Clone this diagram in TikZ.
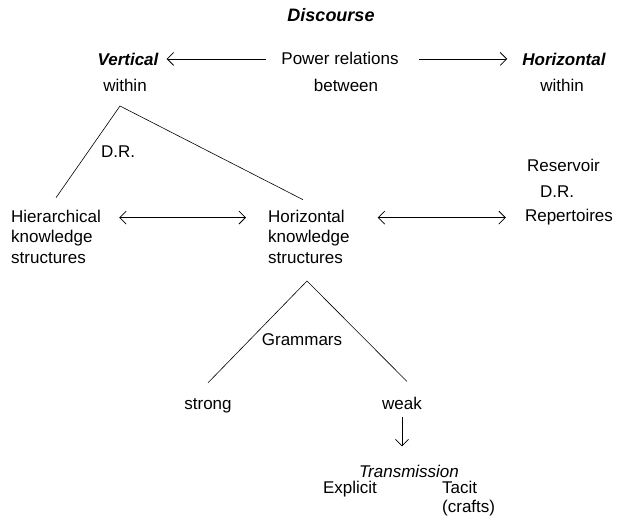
\documentclass[tikz,border=0pt]{standalone}
\usepackage{fontspec}
\setmainfont{Liberation Sans}
\usetikzlibrary{arrows.meta,positioning,calc}
\newcommand\dgfont{\fontsize{17}{20.5}\selectfont}

\begin{document}
\begin{tikzpicture}[
  x=1pt, y=-1pt,
  font=\dgfont,
  txt/.style={inner sep=0pt, anchor=base},
  blk/.style={inner sep=0pt, anchor=north west, align=left},
  bi/.style={font=\dgfont\bfseries\itshape},
  arr/.style={-{Straight Barb[length=6.5pt,width=13pt]}, line width=0.8pt},
  darr/.style={{Straight Barb[length=6.5pt,width=13pt]}-{Straight Barb[length=6.5pt,width=13pt]}, line width=0.8pt},
  ln/.style={line width=0.6pt}
]
\useasboundingbox (0,0) rectangle (621,521);
% top row
\node[txt, font=\fontsize{18}{21}\selectfont\bfseries\itshape] (disc) at (331,22) {Discourse};
\node[txt, bi] (vert) at (128,66) {Vertical};
\node[txt] (power) at (340,65) {Power relations};
\node[txt, bi] (horiz) at (564,66) {Horizontal};
\node[txt] (within1) at (125,92) {within};
\node[txt] (between) at (346,92) {between};
\node[txt] (within2) at (562,92) {within};
\draw[arr, shorten <=15pt, shorten >=8pt] (power.west) -- (vert.east |- power.west);
\draw[arr, shorten <=20pt, shorten >=15pt] (power.east) -- (horiz.west |- power.east);
% knowledge structures
\node[blk] (hier) at (11,209.6) {Hierarchical\\knowledge\\structures};
\node[blk] (hks) at (268,209.6) {Horizontal\\knowledge\\structures};
\node[txt] (rep) at (569,222) {Repertoires};
\node[txt] (dr2) at (557,198) {D.R.};
\node[txt] (reserv) at (563.5,172) {Reservoir};
\draw[darr, shorten <=18pt, shorten >=22pt] (hier.east |- rep.west) -- (hks.west |- rep.west);
\draw[darr, shorten <=28pt, shorten >=19pt] (hks.east |- rep.west) -- (rep.west);
% division of labour
\coordinate (drtop) at (120,106);
\node[txt] (dr1) at (118,158) {D.R.};
\draw[ln] ([yshift=12pt]hier.north) -- (drtop) -- ([xshift=-6pt, yshift=10pt]hks.north);
% grammars
\coordinate (gtop) at (307,281);
\node[txt] (gram) at (302,345) {Grammars};
\node[txt] (strong) at (208,409) {strong};
\node[txt] (weak) at (402,409) {weak};
\draw[ln] ([yshift=15pt]strong.north) -- (gtop) -- ([xshift=5pt, yshift=15pt]weak.north);
% transmission
\node[txt, font=\dgfont\itshape] (trans) at (409,477) {Transmission};
\node[txt] (expl) at (350,493) {Explicit};
\node[blk] (tacit) at (442,481) {Tacit\\[-1.5pt](crafts)};
\draw[arr, shorten <=8pt, shorten >=18pt] (weak.south) -- (weak.south |- trans.north);
\end{tikzpicture}
\end{document}
